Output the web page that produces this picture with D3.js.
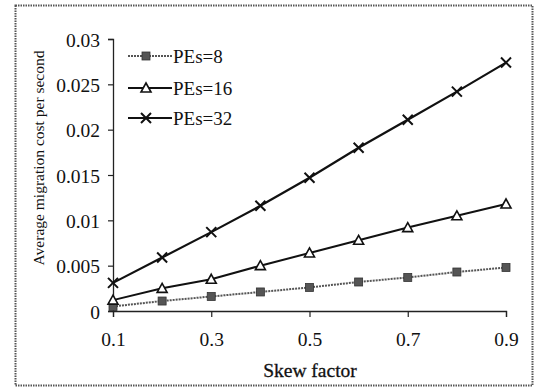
<!DOCTYPE html>
<html><head><meta charset="utf-8">
<script src="https://cdn.jsdelivr.net/npm/d3@7"></script>
<style>body{margin:0;background:#fff}svg{display:block}text{font-family:"Liberation Serif","Times New Roman",serif;fill:#111}</style>
</head><body><svg id="c" width="538" height="388"></svg>
<script>
const skew = [0.1,0.2,0.3,0.4,0.5,0.6,0.7,0.8,0.9];
const pe8  = [0.0005,0.0011,0.0016,0.0021,0.0026,0.0032,0.0037,0.0043,0.0048];
const pe16 = [0.0012,0.0025,0.0035,0.0050,0.0064,0.0078,0.0092,0.0105,0.0118];
const pe32 = [0.0031,0.0059,0.0087,0.0116,0.0147,0.0180,0.0211,0.0242,0.0274];
const seriesNames = ["PEs=8","PEs=16","PEs=32"];
const xTicks = [0.1,0.3,0.5,0.7,0.9];
const yTicks = [0,0.005,0.01,0.015,0.02,0.025,0.03];

const svg = d3.select("#c");
svg.append("rect").attr("x",15.5).attr("y",5.5).attr("width",517).attr("height",380)
  .attr("fill","none").attr("stroke","#555").attr("stroke-width",2).attr("stroke-dasharray","1.5,1");

const x = d3.scaleLinear().domain([0.1,0.9]).range([113,506]);
const y = d3.scaleLinear().domain([0,0.03]).range([311,39]);

const yAxis = svg.append("g").attr("transform","translate(113,0)")
  .call(d3.axisLeft(y).tickValues(yTicks).tickSize(5).tickPadding(8).tickFormat(d=>d===0?"0":String(+d.toFixed(3))));
const xAxis = svg.append("g").attr("transform","translate(0,311)")
  .call(d3.axisBottom(x).tickValues(xTicks).tickSize(6).tickPadding(14).tickFormat(d3.format(".1f")));
[yAxis,xAxis].forEach(a=>{
  a.select(".domain").attr("stroke","#222").attr("stroke-width",1.3);
  a.selectAll(".tick line").attr("stroke","#222").attr("stroke-width",1.2);
  a.selectAll("text").style("font-size","19.5px").attr("fill","#111");
});
yAxis.selectAll("text").attr("dy","0.36em");
xAxis.selectAll("text").attr("dy","0.75em");

svg.append("text").attr("x",310).attr("y",377).attr("text-anchor","middle")
  .style("font-size","19.5px").attr("stroke","#111").attr("stroke-width",0.3).text("Skew factor");
svg.append("text").attr("transform","translate(44,158) rotate(-90)").attr("text-anchor","middle")
  .style("font-size","15.5px").text("Average migration cost per second");

const data = [pe8,pe16,pe32];
const styles = [
  {stroke:"#555",dash:"2,1",width:2},
  {stroke:"#111",dash:null,width:2},
  {stroke:"#111",dash:null,width:2.2}
];
const line = d3.line().x((d,i)=>x(skew[i])).y(d=>y(d));

function marker(g,k,cx,cy){
  if(k===0){
    g.append("rect").attr("x",cx-4).attr("y",cy-4).attr("width",8).attr("height",8)
      .attr("fill","#555").attr("stroke","#333").attr("stroke-width",0.8);
  } else if(k===1){
    const s=5;
    g.append("path").attr("d",`M${cx},${cy-s}L${cx+s},${cy+s*0.8}L${cx-s},${cy+s*0.8}Z`)
      .attr("fill","#fff").attr("stroke","#111").attr("stroke-width",1.6);
  } else {
    const s=5;
    g.append("path").attr("d",`M${cx-s},${cy-s}L${cx+s},${cy+s}M${cx-s},${cy+s}L${cx+s},${cy-s}`)
      .attr("stroke","#111").attr("stroke-width",2).attr("fill","none");
  }
}

data.forEach((vals,k)=>{
  const g = svg.append("g");
  g.append("path").datum(vals).attr("d",line).attr("fill","none")
    .attr("stroke",styles[k].stroke).attr("stroke-width",styles[k].width)
    .attr("stroke-dasharray",styles[k].dash);
  vals.forEach((v,i)=>marker(g,k,x(skew[i]),y(v)));
});

// legend
const legY = [56,88,118];
seriesNames.forEach((n,k)=>{
  const g = svg.append("g");
  g.append("line").attr("x1",128).attr("x2",172).attr("y1",legY[k]).attr("y2",legY[k])
    .attr("stroke",styles[k].stroke).attr("stroke-width",styles[k].width)
    .attr("stroke-dasharray",styles[k].dash);
  marker(g,k,146,legY[k]);
  g.append("text").attr("x",173).attr("y",legY[k]+6.5).style("font-size","19px").text(n);
});
</script></body></html>
